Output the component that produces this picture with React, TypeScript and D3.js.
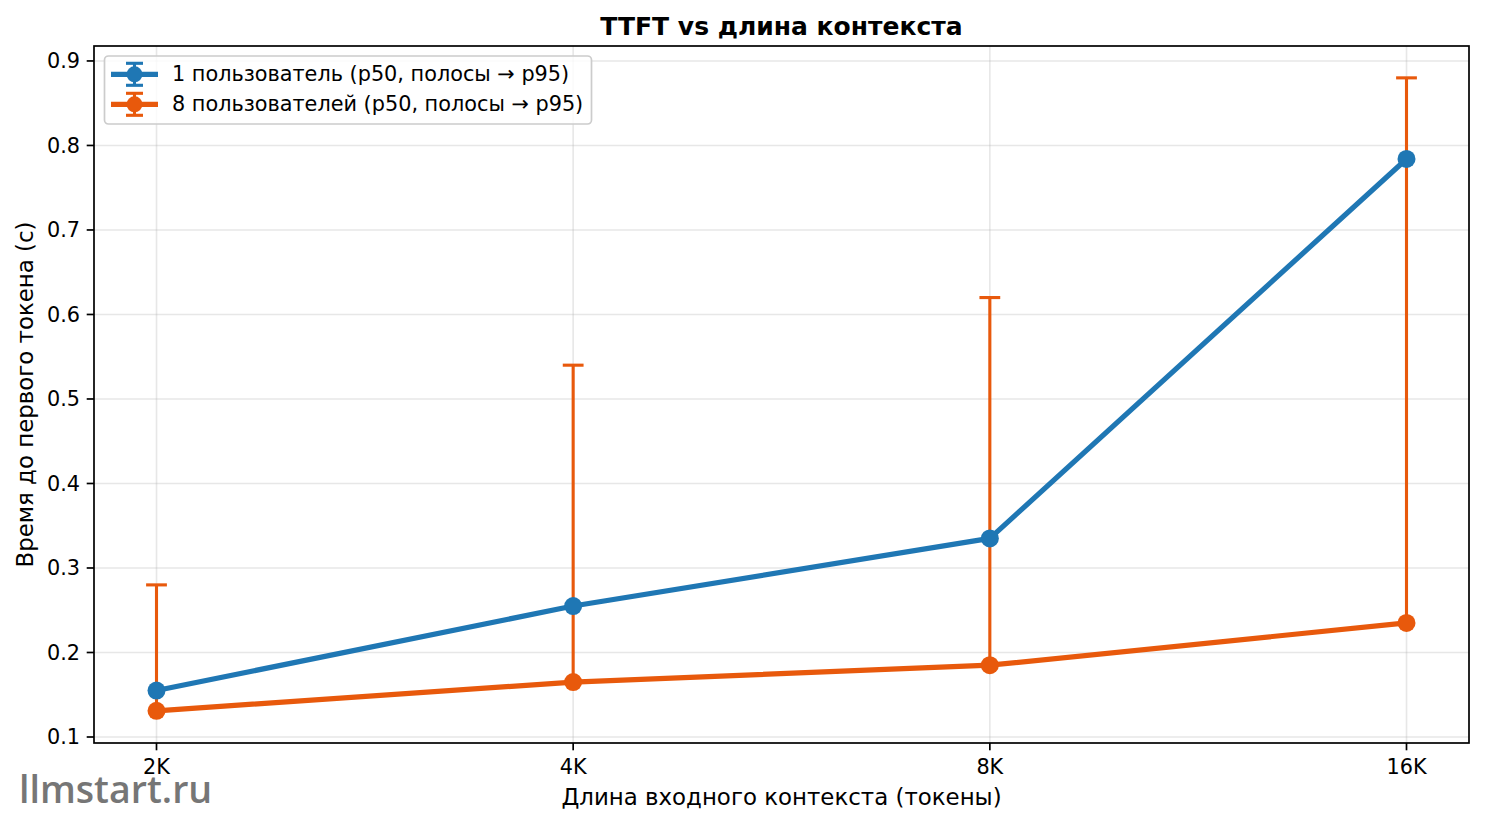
import React from "react";
import * as d3 from "d3";

const categories = ["2K", "4K", "8K", "16K"];
const oneUserP50 = [0.155, 0.255, 0.335, 0.784];
const eightUserP50 = [0.131, 0.165, 0.185, 0.235];
const eightUserP95 = [0.28, 0.54, 0.62, 0.88];
const yTicks = [0.1, 0.2, 0.3, 0.4, 0.5, 0.6, 0.7, 0.8, 0.9];
const seriesNames = [
  "1 пользователь (p50, полосы → p95)",
  "8 пользователей (p50, полосы → p95)",
];
const title = "TTFT vs длина контекста";
const xLabel = "Длина входного контекста (токены)";
const yLabel = "Время до первого токена (с)";

const W = 1485;
const H = 824;
const L = 94, R = 1469, T = 46, B = 743;
const BLUE = "#1f77b4";
const ORANGE = "#e8590c";
const FONT = "DejaVu Sans";

export default function App() {
  const x = d3.scaleLinear().domain([-0.15, 3.15]).range([L, R]);
  const y = d3.scaleLinear().domain([0.0929, 0.9177]).range([B, T]);
  const idx = categories.map((_, i) => i);
  const line = d3
    .line<number>()
    .x((_, i) => x(i))
    .y((v) => y(v));

  const capHalf = 10.4;
  const legendRows = [
    { name: seriesNames[0], color: BLUE, cy: 74.3, base: 81 },
    { name: seriesNames[1], color: ORANGE, cy: 104.3, base: 111 },
  ];

  return (
    <svg
      width={W}
      height={H}
      style={{ position: "absolute", left: 0, top: 0, background: "#fff" }}
      fontFamily={FONT}
    >
      <rect x={0} y={0} width={W} height={H} fill="#fff" />
      {/* grid */}
      <g stroke="#b0b0b0" strokeOpacity={0.3} strokeWidth={1.6}>
        {idx.map((i) => (
          <line key={"gx" + i} x1={x(i)} x2={x(i)} y1={T} y2={B} />
        ))}
        {yTicks.map((t) => (
          <line key={"gy" + t} x1={L} x2={R} y1={y(t)} y2={y(t)} />
        ))}
      </g>
      {/* error bars (8 users) */}
      <g stroke={ORANGE} strokeWidth={3.1}>
        {eightUserP50.map((v, i) => (
          <g key={"eb" + i}>
            <line x1={x(i)} x2={x(i)} y1={y(v)} y2={y(eightUserP95[i])} />
            <line
              x1={x(i) - capHalf}
              x2={x(i) + capHalf}
              y1={y(eightUserP95[i])}
              y2={y(eightUserP95[i])}
            />
          </g>
        ))}
      </g>
      {/* blue line */}
      <path d={line(oneUserP50) || ""} fill="none" stroke={BLUE} strokeWidth={5.2} strokeLinejoin="round" />
      {oneUserP50.map((v, i) => (
        <circle key={"bm" + i} cx={x(i)} cy={y(v)} r={9} fill={BLUE} />
      ))}
      {/* orange line */}
      <path d={line(eightUserP50) || ""} fill="none" stroke={ORANGE} strokeWidth={5.2} strokeLinejoin="round" />
      {eightUserP50.map((v, i) => (
        <circle key={"om" + i} cx={x(i)} cy={y(v)} r={9} fill={ORANGE} />
      ))}
      {/* axes frame */}
      <rect x={L} y={T} width={R - L} height={B - T} fill="none" stroke="#000" strokeWidth={1.7} />
      {/* x ticks */}
      {idx.map((i) => (
        <g key={"xt" + i}>
          <line x1={x(i)} x2={x(i)} y1={B} y2={B + 7.3} stroke="#000" strokeWidth={1.7} />
          <text x={x(i)} y={774} textAnchor="middle" fontSize={20.8} fill="#000">
            {categories[i]}
          </text>
        </g>
      ))}
      {/* y ticks */}
      {yTicks.map((t) => (
        <g key={"yt" + t}>
          <line x1={L - 7.3} x2={L} y1={y(t)} y2={y(t)} stroke="#000" strokeWidth={1.7} />
          <text x={80} y={y(t) + 7.4} textAnchor="end" fontSize={20.8} fill="#000">
            {d3.format(".1f")(t)}
          </text>
        </g>
      ))}
      {/* labels */}
      <text x={(L + R) / 2} y={35} textAnchor="middle" fontSize={25} fontWeight="bold" fill="#000">
        {title}
      </text>
      <text x={(L + R) / 2} y={805} textAnchor="middle" fontSize={22.9} fill="#000">
        {xLabel}
      </text>
      <text
        transform={`translate(33, ${(T + B) / 2}) rotate(-90)`}
        textAnchor="middle"
        fontSize={22.9}
        fill="#000"
      >
        {yLabel}
      </text>
      {/* legend */}
      <rect x={104.5} y={56} width={487} height={68} rx={4} fill="#fff" fillOpacity={0.8} stroke="#cccccc" strokeWidth={1.7} />
      {legendRows.map((r) => (
        <g key={r.name}>
          <line x1={111} x2={158} y1={r.cy} y2={r.cy} stroke={r.color} strokeWidth={5.2} />
          <line x1={134.5} x2={134.5} y1={r.cy - 11} y2={r.cy + 11} stroke={r.color} strokeWidth={3.1} />
          <line x1={134.5 - 8.5} x2={134.5 + 8.5} y1={r.cy - 11} y2={r.cy - 11} stroke={r.color} strokeWidth={3.1} />
          <line x1={134.5 - 8.5} x2={134.5 + 8.5} y1={r.cy + 11} y2={r.cy + 11} stroke={r.color} strokeWidth={3.1} />
          <circle cx={134.5} cy={r.cy} r={8} fill={r.color} />
          <text x={172} y={r.base} fontSize={20.8} fill="#000">
            {r.name}
          </text>
        </g>
      ))}
      {/* watermark */}
      <text x={19} y={803} fontFamily="Open Sans" fontWeight={600} fontSize={37.6} fill="#767676">
        llmstart.ru
      </text>
    </svg>
  );
}
